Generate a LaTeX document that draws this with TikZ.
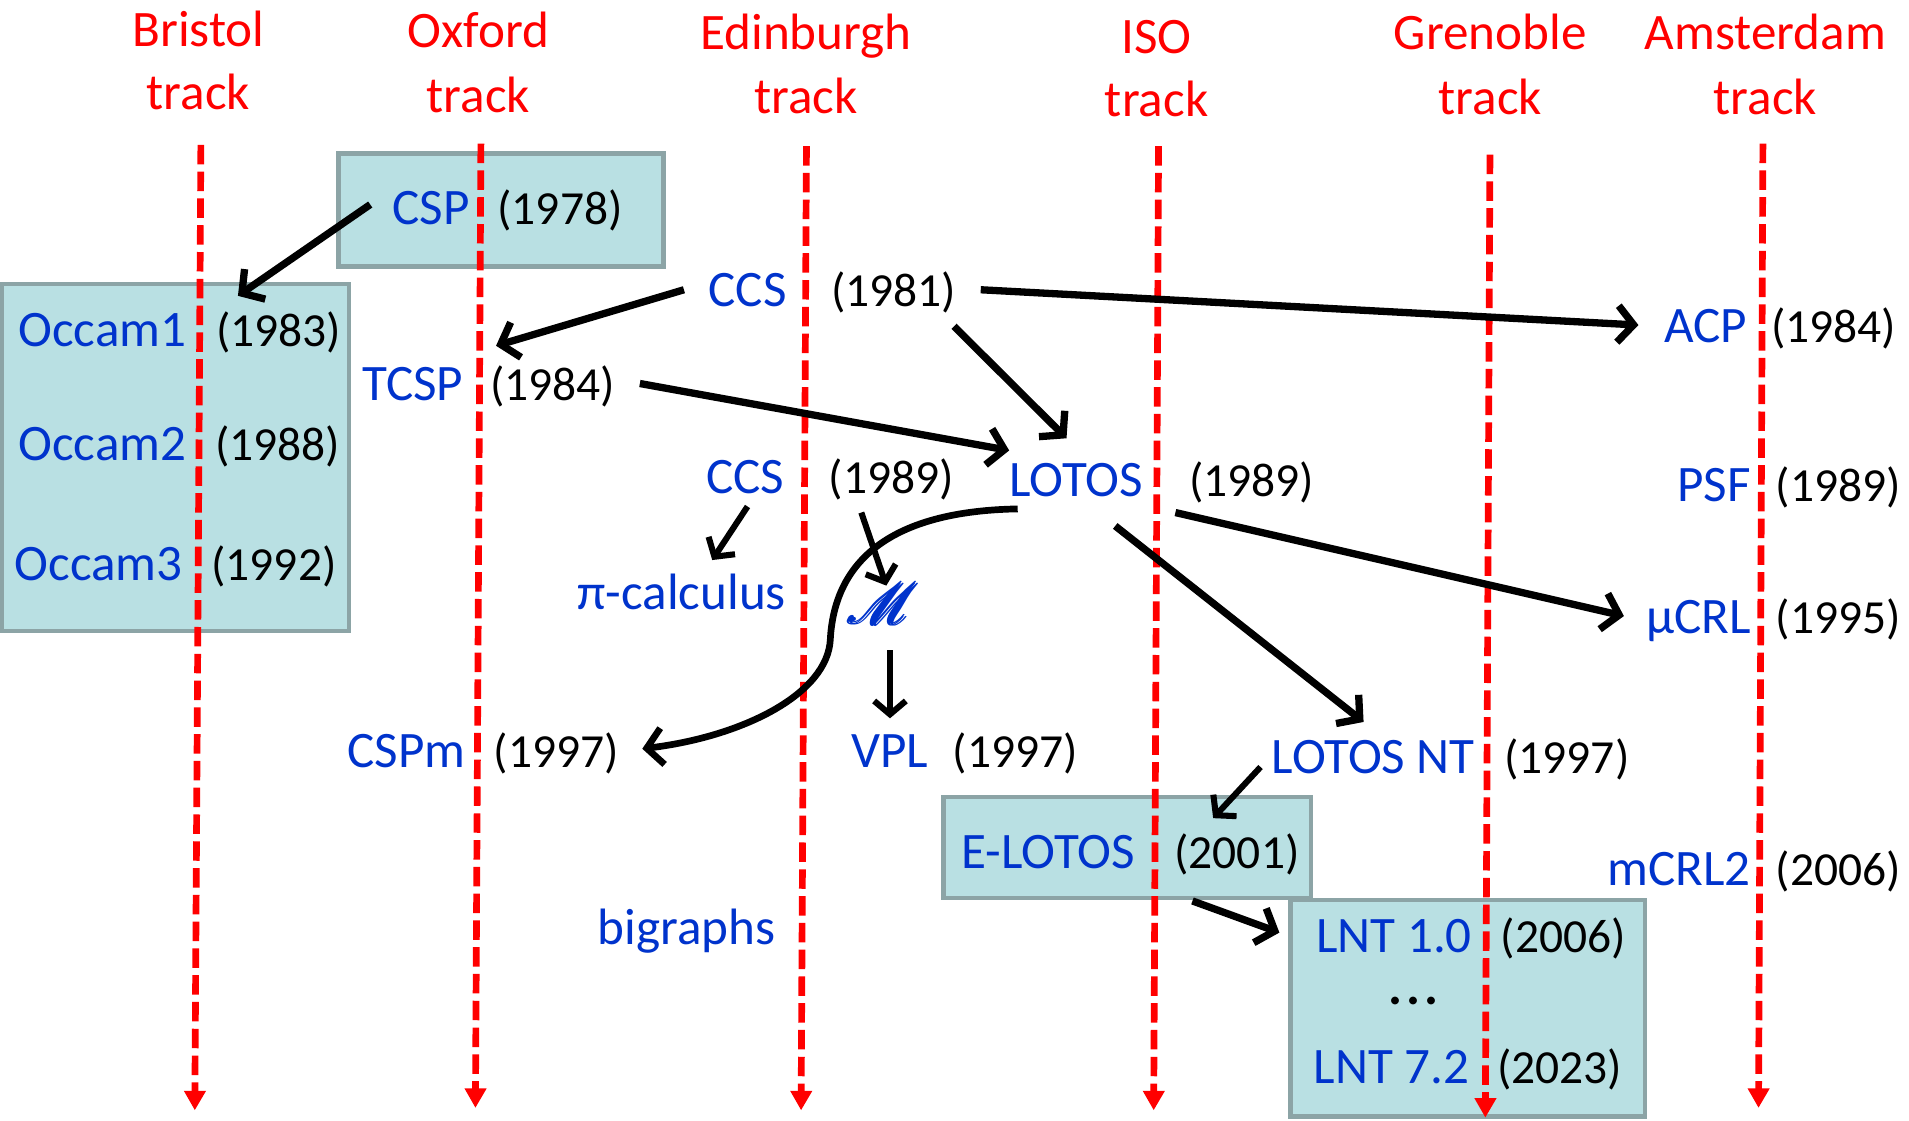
\documentclass[tikz,border=0pt]{standalone}
\usepackage{amsmath}
\usepackage{fontspec}
\setmainfont{Carlito}
\usepackage{mathrsfs}
\usetikzlibrary{arrows.meta,calc}
\definecolor{tblue}{RGB}{0,51,204}
\definecolor{tred}{RGB}{255,0,0}
\definecolor{boxfill}{RGB}{185,224,227}
\definecolor{boxline}{RGB}{140,164,166}
\begin{document}
\begin{tikzpicture}[x=1pt,y=-1pt,
  nm/.style={inner sep=0pt, anchor=base, text=tblue, font=\fontsize{42pt}{50pt}\selectfont},
  yr/.style={inner sep=0pt, anchor=base, text=black, font=\fontsize{39pt}{47pt}\selectfont},
  trk/.style={inner sep=0pt, anchor=base, text=tred, font=\fontsize{42pt}{50pt}\selectfont},
  tline/.style={draw=tred, line width=5.5pt, dash pattern=on 16pt off 6pt, -{Triangle[length=16pt,width=17pt]}},
  grp/.style={draw=boxline, fill=boxfill, line width=3.5pt, inner sep=0pt, outer sep=0pt, anchor=north west},
  arr/.style={draw=black, line width=6pt, -{Straight Barb[length=13pt,width=30pt]}},
  tarr/.style={draw=black, line width=5pt, -{Straight Barb[length=11pt,width=26pt]}},
]
\useasboundingbox (0,0) rectangle (1568,920);

% group boxes
\node[grp, minimum width=267pt, minimum height=93pt] (cspbox) at (278,126) {};
\node[grp, minimum width=285pt, minimum height=285pt] (occbox) at (1.8,233) {};
\node[grp, minimum width=302pt, minimum height=83pt] (elbox) at (775,654.5) {};
\node[grp, minimum width=291pt, minimum height=178pt] (lntbox) at (1060,739) {};

% track titles
\node[trk] (t1a) at (163,38.5) {Bristol};  \node[trk] (t1b) at (163,90) {track};
\node[trk] (t2a) at (393,39) {Oxford};     \node[trk] (t2b) at (393,92) {track};
\node[trk] (t3a) at (662,41) {Edinburgh};  \node[trk] (t3b) at (662,93) {track};
\node[trk] (t4a) at (950,44) {ISO};        \node[trk] (t4b) at (950,96) {track};
\node[trk] (t5a) at (1224,41) {Grenoble};  \node[trk] (t5b) at (1224,94) {track};
\node[trk] (t6a) at (1450,41) {Amsterdam}; \node[trk] (t6b) at (1450,94) {track};

% track lines
\coordinate (b1) at (165,119);  \coordinate (e1) at (160,912);
\coordinate (b2) at (395,118);  \coordinate (e2) at (390.5,910);
\coordinate (b3) at (662.4,120); \coordinate (e3) at (658,912);
\coordinate (b4) at (951.6,120); \coordinate (e4) at (947.6,912);
\coordinate (b5) at (1223.8,127); \coordinate (e5) at (1220,918);
\coordinate (b6) at (1448,118); \coordinate (e6) at (1444.4,910);
\foreach \i in {1,...,6} { \draw[tline] (b\i) -- (e\i); }

% languages
\node[nm] (csp) at (354,184) {CSP};        \node[yr] (cspy) at (460,184) {(1978)};
\node[nm] (ccsa) at (614,252) {CCS};       \node[yr] (ccsay) at (734,252) {(1981)};
\node[nm] (occ1) at (84,285) {Occam1};     \node[yr] (occ1y) at (229,285) {(1983)};
\node[nm] (occ2) at (84,378) {Occam2};     \node[yr] (occ2y) at (228,378) {(1988)};
\node[nm] (occ3) at (81,477) {Occam3};     \node[yr] (occ3y) at (225,477) {(1992)};
\node[nm] (tcsp) at (339,329) {TCSP};      \node[yr] (tcspy) at (454,329) {(1984)};
\node[nm] (acp) at (1401,281) {ACP};       \node[yr] (acpy) at (1506,281) {(1984)};
\node[nm] (ccsb) at (612,405) {CCS};       \node[yr] (ccsby) at (732,405) {(1989)};
\node[nm] (lotos) at (884,408) {LOTOS};    \node[yr] (lotosy) at (1028,408) {(1989)};
\node[nm] (psf) at (1408,412) {PSF};       \node[yr] (psfy) at (1510,412) {(1989)};
\node[nm] (pi) at (560,501) {π-calculus};
\node[nm, font=\fontsize{24.88pt}{30pt}\selectfont, scale=1.9] (mm) at (726,513) {$\pmb{\mathscr{M}}$};
\node[nm] (mucrl) at (1395,520) {µCRL};    \node[yr] (mucrly) at (1510,520) {(1995)};
\node[nm] (cspm) at (334,630) {CSPm};      \node[yr] (cspmy) at (457,630) {(1997)};
\node[nm] (vpl) at (731,630) {VPL};        \node[yr] (vply) at (834,630) {(1997)};
\node[nm] (lnt) at (1128,635) {LOTOS NT};  \node[yr] (lnty) at (1287,635) {(1997)};
\node[nm] (elotos) at (861,713) {E-LOTOS}; \node[yr] (elotosy) at (1016,713) {(2001)};
\node[nm] (mcrl) at (1379,727) {mCRL2};    \node[yr] (mcrly) at (1510,727) {(2006)};
\node[nm] (bigr) at (564,776) {bigraphs};
\node[nm] (lnta) at (1145,782) {LNT 1.0};  \node[yr] (lntay) at (1284,782) {(2006)};
\node[yr, font=\bfseries\fontsize{43pt}{50pt}\selectfont] (dots) at (1161,825) {.\hspace{3.5pt}.\hspace{3.5pt}.};
\node[nm] (lntb) at (1143,890) {LNT 7.2};  \node[yr] (lntby) at (1281,890) {(2023)};

% derivations
\draw[arr] ($(csp.base west)+(-18,-16)$) -- ($(occ1y.base west)+(18,-42)$);
\draw[arr] ($(ccsa.base west)+(-20,-14)$) -- ($(tcspy.base west)+(5,-45)$);
\draw[arr] ($(ccsay.base east)+(20,-14)$) -- ($(acp.base west)+(-21,-14)$);
\draw[arr] ($(ccsay.base east)+(-2,16)$) -- ($(lotos.base)+(-8,-48)$);
\draw[arr] ($(tcspy.base east)+(20,-14)$) -- ($(lotos.base west)+(0,-38)$);
\draw[tarr] ($(ccsb.base)+(2,11)$) -- ($(pi.base)+(25,-41)$);
\draw[tarr] ($(ccsby.base west)+(27,16)$) -- ($(mm.base)+(2,-32)$);
\draw[tarr] ($(mm.base)+(5,21)$) -- ($(vpl.base)+(0,-40)$);
\draw[arr, line width=5.5pt] ($(lotos.base west)+(7,10)$) .. controls (720,420) and (685,470) .. (682,525)
   .. controls (680,570) and (610,605) .. ($(cspmy.base east)+(19,-15)$);
\draw[arr] ($(lotosy.base west)+(-11,13)$) -- ($(mucrl.base west)+(-18,-14)$);
\draw[arr] ($(lotos.base)+(32,24)$) -- ($(lnt.base)+(-8,-42)$);
\draw[tarr] ($(lnt.base west)+(-9,-5)$) -- ($(elotosy.base west)+(32,-41)$);
\draw[arr] ($(elotosy.base west)+(15,27)$) -- ($(lnta.base west)+(-30,-16)$);
\end{tikzpicture}
\end{document}
